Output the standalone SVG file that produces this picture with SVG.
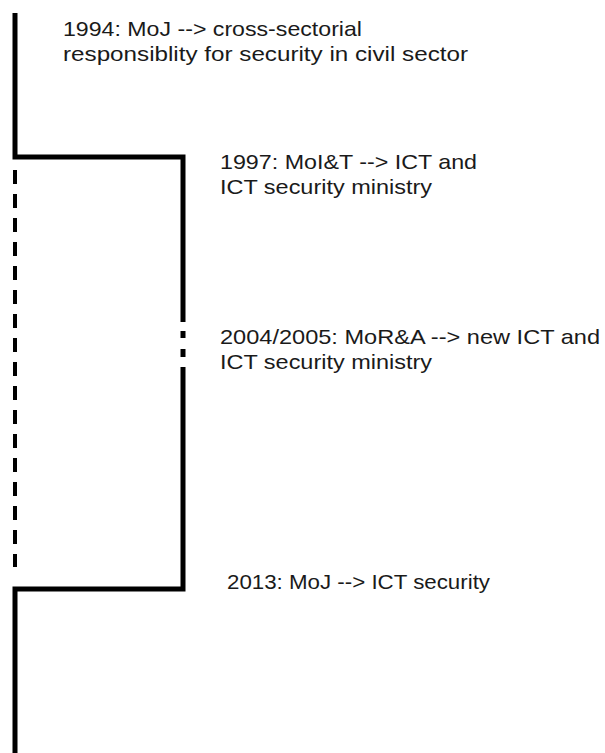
<svg xmlns="http://www.w3.org/2000/svg" width="605" height="753" viewBox="0 0 605 753">
  <style>
    .solid { fill: none; stroke: #000; stroke-width: 5; stroke-linecap: butt; stroke-linejoin: miter; }
    .dash { fill: none; stroke: #000; stroke-width: 4; stroke-dasharray: 14 10; }
    .lbl { font-family: "Liberation Sans", "Open Sans", sans-serif; font-size: 21px; fill: #1a1a1a; }
  </style>
  <rect width="605" height="753" fill="#fff"/>

  <g id="connectors">
    <!-- main timeline: top segment, branch out to the right track and back -->
    <polyline class="solid" points="15,13 15,157 183,157 183,322"/>
    <!-- short break in the right track -->
    <line class="solid" x1="183" y1="331" x2="183" y2="338"/>
    <line class="solid" x1="183" y1="349" x2="183" y2="357"/>
    <polyline class="solid" points="183,367 183,589 15,589 15,753"/>
    <!-- dashed left track during the interim period -->
    <line class="dash" x1="15" y1="170" x2="15" y2="567"/>
  </g>

  <g id="node-1994">
    <text class="lbl" x="63" y="36" textLength="299" lengthAdjust="spacingAndGlyphs">1994: MoJ --&gt; cross-sectorial</text>
    <text class="lbl" x="63" y="61" textLength="405" lengthAdjust="spacingAndGlyphs">responsiblity for security in civil sector</text>
  </g>
  <g id="node-1997">
    <text class="lbl" x="220" y="169" textLength="257" lengthAdjust="spacingAndGlyphs">1997: MoI&amp;T --&gt; ICT and</text>
    <text class="lbl" x="220" y="194" textLength="212" lengthAdjust="spacingAndGlyphs">ICT security ministry</text>
  </g>
  <g id="node-2004">
    <text class="lbl" x="220" y="344" textLength="380" lengthAdjust="spacingAndGlyphs">2004/2005: MoR&amp;A --&gt; new ICT and</text>
    <text class="lbl" x="220" y="369" textLength="212" lengthAdjust="spacingAndGlyphs">ICT security ministry</text>
  </g>
  <g id="node-2013">
    <text class="lbl" x="227" y="589" textLength="263" lengthAdjust="spacingAndGlyphs">2013: MoJ --&gt; ICT security</text>
  </g>
</svg>
